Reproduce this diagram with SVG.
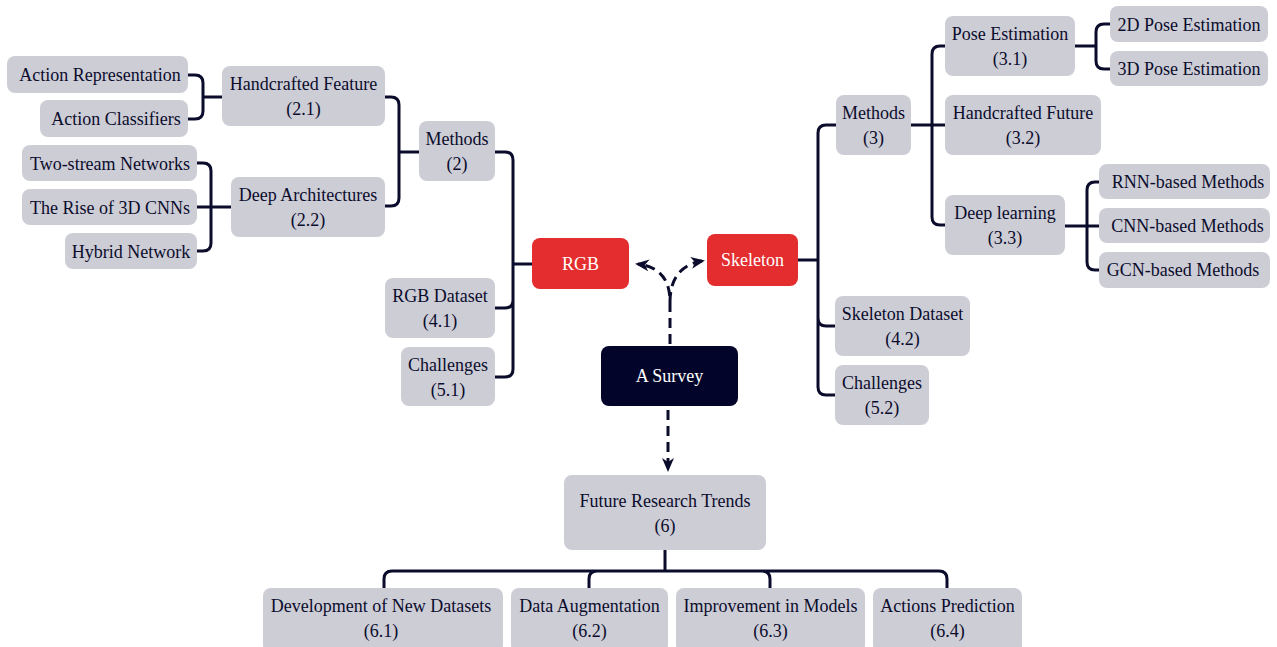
<svg xmlns="http://www.w3.org/2000/svg" width="1277" height="647" viewBox="0 0 1277 647" font-family="Liberation Serif, Times New Roman, serif">
<defs>
<style>
.n{fill:#cdcdd6}
.r{fill:#e32d2e}
.d{fill:#020529}
text{font-size:18px;fill:#0b0c2c;text-anchor:middle}
.w{fill:#ffffff}
.c{fill:none;stroke:#0b0c2c;stroke-width:3}
.a{fill:none;stroke:#0b0c2c;stroke-width:3;stroke-dasharray:10 6}
</style>
<marker id="ah" markerWidth="14" markerHeight="12" refX="11" refY="6" orient="auto" markerUnits="userSpaceOnUse">
<path d="M0,0 L14,6 L0,12 L4,6 z" fill="#0b0c2c"/>
</marker>
</defs>
<rect width="1277" height="647" fill="#ffffff"/>
<g id="connectors">
<path class="c" d="M188 75 H195 Q203 75 203 83 V111 Q203 119 195 119 H188 M203 97 H222"/>
<path class="c" d="M385 97 H391 Q399 97 399 105 V198 Q399 206 391 206 H385 M399 152 H419"/>
<path class="c" d="M197 163 H203 Q211 163 211 171 V243 Q211 251 203 251 H197 M197 207 H231"/>
<path class="c" d="M495 152 H505 Q513 152 513 160 V369 Q513 377 505 377 H495 M495 308 H505 Q513 308 513 300 M513 264 H532"/>
<path class="c" d="M836 125 H826 Q818 125 818 133 V387 Q818 395 826 395 H835 M835 326 H826 Q818 326 818 318 M798 260 H818"/>
<path class="c" d="M945 46 H940 Q932 46 932 54 V217 Q932 225 940 225 H945 M911 125 H945"/>
<path class="c" d="M1110 24 H1104 Q1096 24 1096 32 V61 Q1096 69 1104 69 H1110 M1075 46 H1096"/>
<path class="c" d="M1099 182 H1095 Q1087 182 1087 190 V262 Q1087 270 1095 270 H1099 M1065 226 H1099"/>
<path class="c" d="M665 550 V571 M384 588 V579 Q384 571 392 571 H939 Q947 571 947 579 V588 M589 588 V579 Q589 571 597 571 M770 588 V579 Q770 571 762 571"/>
<path class="a" d="M670 344 V302 C670 282 662 267 638 264" marker-end="url(#ah)"/>
<path class="a" d="M670 302 C670 282 678 265 702 261" marker-end="url(#ah)"/>
<path class="a" d="M668 410 V469" marker-end="url(#ah)"/>
</g>
<g id="n-actrep"><rect class="n" x="7" y="56" width="181" height="37" rx="8"/><text x="100" y="81">Action Representation</text></g>
<g id="n-actcls"><rect class="n" x="40" y="100" width="148" height="37" rx="8"/><text x="116" y="125">Action Classifiers</text></g>
<g id="n-hand21"><rect class="n" x="222" y="66" width="163" height="60" rx="8"/><text x="303.5" y="90">Handcrafted Feature</text><text x="303.5" y="115">(2.1)</text></g>
<g id="n-twostream"><rect class="n" x="22" y="145" width="175" height="36" rx="8"/><text x="110" y="170">Two-stream Networks</text></g>
<g id="n-rise3d"><rect class="n" x="22" y="189" width="175" height="36" rx="8"/><text x="110" y="214">The Rise of 3D CNNs</text></g>
<g id="n-hybrid"><rect class="n" x="65" y="233" width="132" height="36" rx="8"/><text x="131" y="258">Hybrid Network</text></g>
<g id="n-deep22"><rect class="n" x="231" y="177" width="154" height="60" rx="8"/><text x="308" y="201">Deep Architectures</text><text x="308" y="226">(2.2)</text></g>
<g id="n-methods2"><rect class="n" x="419" y="121" width="76" height="60" rx="8"/><text x="457" y="145">Methods</text><text x="457" y="170">(2)</text></g>
<g id="n-rgb"><rect class="r" x="532" y="238" width="97" height="51" rx="8"/><text class="w" x="580.5" y="270">RGB</text></g>
<g id="n-rgbdata"><rect class="n" x="385" y="278" width="110" height="60" rx="8"/><text x="440" y="302">RGB Dataset</text><text x="440" y="327">(4.1)</text></g>
<g id="n-chal51"><rect class="n" x="401" y="347" width="94" height="59" rx="8"/><text x="448" y="371">Challenges</text><text x="448" y="396">(5.1)</text></g>
<g id="n-survey"><rect class="d" x="601" y="346" width="137" height="60" rx="8"/><text class="w" x="669.5" y="382">A Survey</text></g>
<g id="n-skeleton"><rect class="r" x="707" y="234" width="91" height="52" rx="8"/><text class="w" x="752.5" y="266">Skeleton</text></g>
<g id="n-methods3"><rect class="n" x="836" y="95" width="75" height="60" rx="8"/><text x="873.5" y="119">Methods</text><text x="873.5" y="144">(3)</text></g>
<g id="n-pose31"><rect class="n" x="945" y="16" width="130" height="60" rx="8"/><text x="1010" y="40">Pose Estimation</text><text x="1010" y="65">(3.1)</text></g>
<g id="n-pose2d"><rect class="n" x="1110" y="6" width="158" height="36" rx="8"/><text x="1189" y="31">2D Pose Estimation</text></g>
<g id="n-pose3d"><rect class="n" x="1110" y="51" width="158" height="35" rx="8"/><text x="1189" y="75">3D Pose Estimation</text></g>
<g id="n-hand32"><rect class="n" x="945" y="95" width="156" height="60" rx="8"/><text x="1023" y="119">Handcrafted Future</text><text x="1023" y="144">(3.2)</text></g>
<g id="n-deep33"><rect class="n" x="945" y="195" width="120" height="60" rx="8"/><text x="1005" y="219">Deep learning</text><text x="1005" y="244">(3.3)</text></g>
<g id="n-rnn"><rect class="n" x="1099" y="164" width="171" height="35" rx="8"/><text x="1188" y="188">RNN-based Methods</text></g>
<g id="n-cnn"><rect class="n" x="1099" y="208" width="171" height="35" rx="8"/><text x="1187.5" y="232">CNN-based Methods</text></g>
<g id="n-gcn"><rect class="n" x="1099" y="252" width="171" height="36" rx="8"/><text x="1183" y="276">GCN-based Methods</text></g>
<g id="n-skeldata"><rect class="n" x="835" y="296" width="135" height="60" rx="8"/><text x="902.5" y="320">Skeleton Dataset</text><text x="902.5" y="345">(4.2)</text></g>
<g id="n-chal52"><rect class="n" x="835" y="365" width="94" height="60" rx="8"/><text x="882" y="389">Challenges</text><text x="882" y="414">(5.2)</text></g>
<g id="n-future"><rect class="n" x="564" y="475" width="202" height="75" rx="8"/><text x="665" y="507">Future Research Trends</text><text x="665" y="532">(6)</text></g>
<g id="n-devdata"><rect class="n" x="263" y="588" width="240" height="65" rx="8"/><text x="381" y="612">Development of New Datasets</text><text x="381" y="637">(6.1)</text></g>
<g id="n-aug"><rect class="n" x="511" y="588" width="157" height="65" rx="8"/><text x="589.5" y="612">Data Augmentation</text><text x="589.5" y="637">(6.2)</text></g>
<g id="n-improve"><rect class="n" x="676" y="588" width="189" height="65" rx="8"/><text x="770.5" y="612">Improvement in Models</text><text x="770.5" y="637">(6.3)</text></g>
<g id="n-predict"><rect class="n" x="873" y="588" width="149" height="65" rx="8"/><text x="947.5" y="612">Actions Prediction</text><text x="947.5" y="637">(6.4)</text></g>
</svg>
